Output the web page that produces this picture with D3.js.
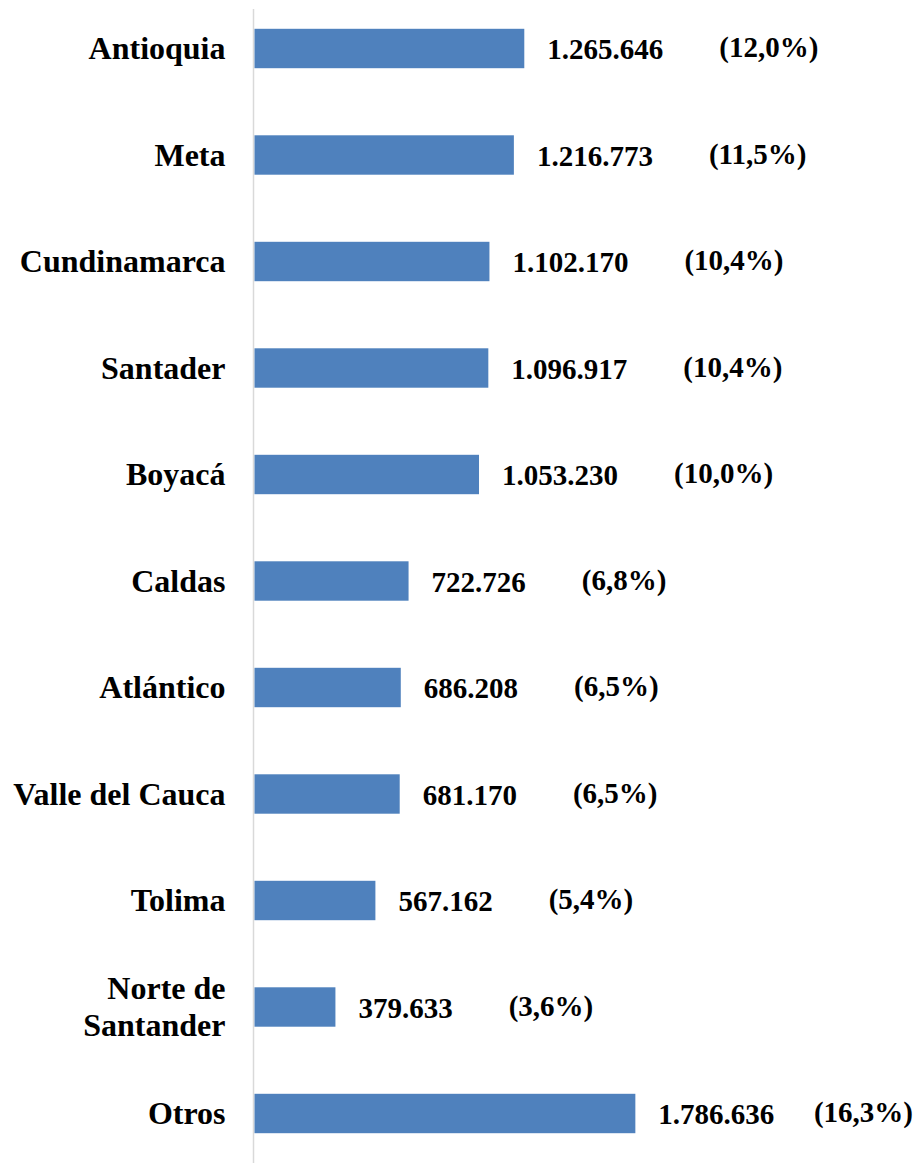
<!DOCTYPE html>
<html>
<head>
<meta charset="utf-8">
<script src="https://cdn.jsdelivr.net/npm/d3@7"></script>
<style>
  html, body { margin: 0; padding: 0; background: #fff; }
  svg { display: block; }
  text { font-family: "Liberation Serif", "Times New Roman", serif; font-weight: bold; fill: #000; }
</style>
</head>
<body>
<svg width="917" height="1163"></svg>
<script>
var departamentos = ['Antioquia', 'Meta', 'Cundinamarca', 'Santader', 'Boyacá', 'Caldas',
  'Atlántico', 'Valle del Cauca', 'Tolima', 'Norte de\nSantander', 'Otros'];
var valores = [1265646, 1216773, 1102170, 1096917, 1053230, 722726,
  686208, 681170, 567162, 379633, 1786636];
var porcentajes = ['(12,0%)', '(11,5%)', '(10,4%)', '(10,4%)', '(10,0%)', '(6,8%)',
  '(6,5%)', '(6,5%)', '(5,4%)', '(3,6%)', '(16,3%)'];

var svg = d3.select('svg'),
  width = +svg.attr('width'),
  height = +svg.attr('height');

var data = departamentos.map(function (d, i) {
  return { name: d, value: valores[i], pct: porcentajes[i] };
});

var x = d3.scaleLinear().domain([0, 3000000]).range([254.5, 894]);

var y = d3.scaleBand()
  .domain(departamentos)
  .range([-4.75, 1166.75])
  .paddingInner(0.63)
  .paddingOuter(0.315);

var fmt = d3.formatLocale({ decimal: ',', thousands: '.', grouping: [3], currency: ['$', ''] }).format(',d');

// eje vertical
svg.append('line')
  .attr('x1', 253.5).attr('x2', 253.5)
  .attr('y1', 9).attr('y2', height)
  .attr('stroke', '#d9d9d9')
  .attr('stroke-width', 1.5);

// barras
svg.append('g')
  .selectAll('rect')
  .data(data)
  .enter()
  .append('rect')
  .attr('x', x(0))
  .attr('y', function (d) { return y(d.name); })
  .attr('width', function (d) { return x(d.value) - x(0); })
  .attr('height', y.bandwidth())
  .attr('fill', '#4f81bd');

// nombres
var labels = svg.append('g')
  .selectAll('text')
  .data(data)
  .enter()
  .append('text')
  .attr('text-anchor', 'end')
  .style('font-size', '32px')
  .attr('x', 225.5)
  .attr('y', function (d) { return y(d.name) + y.bandwidth() / 2 + 10.8; });

labels.each(function (d) {
  var lines = d.name.split('\n');
  var t = d3.select(this);
  var lh = 36.7;
  lines.forEach(function (l, j) {
    t.append('tspan')
      .attr('x', 225.5)
      .attr('dy', j === 0 ? -(lines.length - 1) * lh / 2 : lh)
      .text(l);
  });
});

// valores
var vals = svg.append('g')
  .selectAll('text')
  .data(data)
  .enter()
  .append('text')
  .style('font-size', '29px')
  .attr('x', function (d) { return x(d.value) + 23; })
  .attr('y', function (d) { return y(d.name) + y.bandwidth() / 2 + 10.8; })
  .text(function (d) { return fmt(d.value); });

// porcentajes
var pg = svg.append('g');
vals.each(function (d) {
  var w = this.getComputedTextLength();
  var t = pg.append('text')
    .style('font-size', '29px')
    .attr('y', y(d.name) + y.bandwidth() / 2 + 8.5)
    .text(d.pct);
  var pw = t.node().getComputedTextLength();
  t.attr('x', Math.min(x(d.value) + 23 + w + 56, width - 4 - pw));
});
</script>
</body>
</html>
